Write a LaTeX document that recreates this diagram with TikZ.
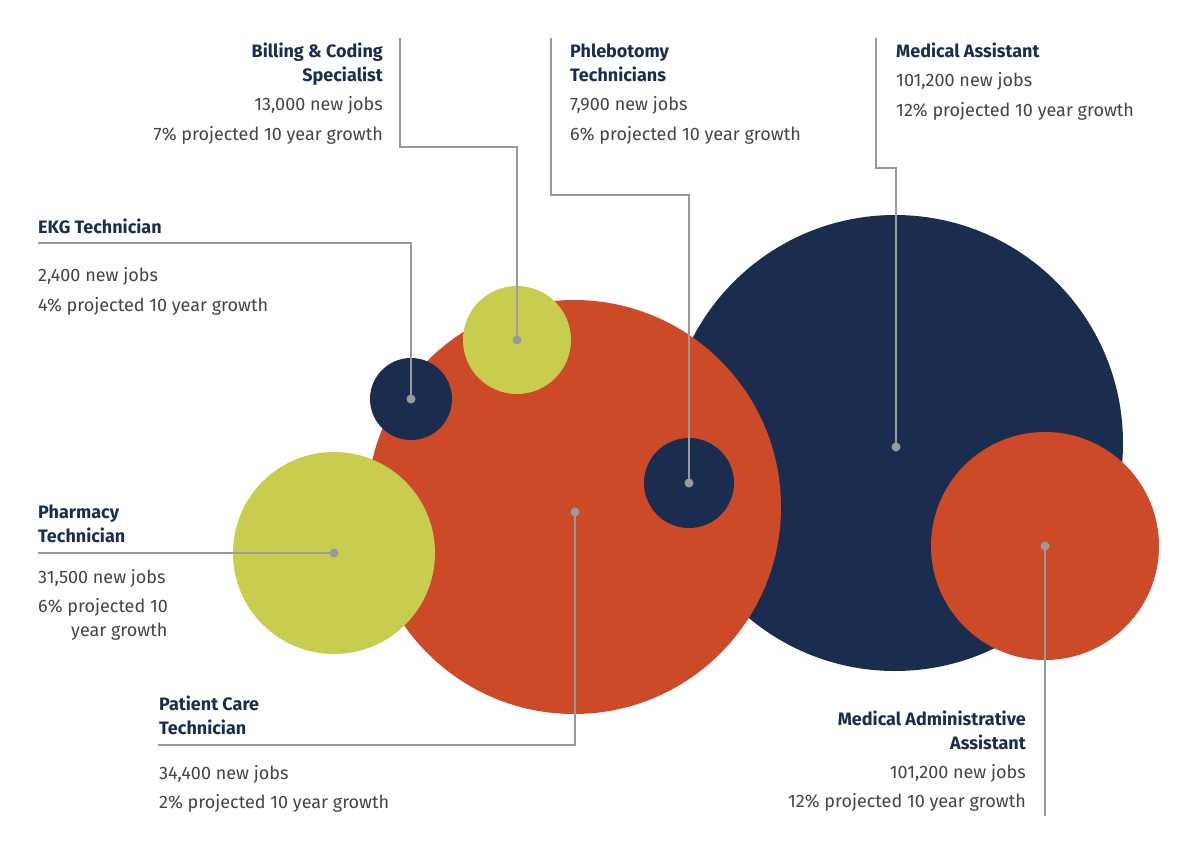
\documentclass[tikz,border=0pt]{standalone}
\usepackage{fontspec}
\setmainfont{Fira Sans}
\begin{document}
\definecolor{navy}{HTML}{1B2D4F}
\definecolor{rust}{HTML}{CD4A28}
\definecolor{lime}{HTML}{C8CD50}
\definecolor{ln}{HTML}{9A9A9A}
\definecolor{txt}{HTML}{444444}
\begin{tikzpicture}[x=1pt,y=-1pt,
  ttl/.style={font=\fontsize{18}{18}\selectfont\bfseries,text=navy,inner sep=0},
  bd/.style={font=\fontsize{18}{18}\selectfont,text=txt,inner sep=0},
  con/.style={draw=ln,line width=1.6pt},
  dot/.style={circle,fill=ln,minimum size=9pt,inner sep=0}]
\useasboundingbox (0,0) rectangle (1200,849);
\fill[white] (0,0) rectangle (1200,849);
\fill[navy] (895,443) circle (228);
\fill[rust] (574,507) circle (207);
\fill[rust] (1045,546) circle (114);
\fill[lime] (334,553) circle (101);
\fill[lime] (517,340) circle (54);
\fill[navy] (411,399) circle (41);
\fill[navy] (689,483) circle (45);
% dots
\node[dot] (bc) at (517,340) {};
\node[dot] (ph) at (689,483) {};
\node[dot] (ma) at (896,447) {};
\node[dot] (ek) at (411,399) {};
\node[dot] (pt) at (334,553) {};
\node[dot] (pc) at (575,512) {};
\node[dot] (mx) at (1045,546) {};
\coordinate (bc0) at (400,38);
\coordinate (ph0) at (551,38);
\coordinate (ma0) at (876,38);
\coordinate (ek0) at (38,243);
\coordinate (pt0) at (38,553);
\coordinate (pc0) at (158,745);
\coordinate (mx0) at (1045,816);
\draw[con] (bc0) |- (517,147) -- (bc.center);
\draw[con] (ph0) |- (689,195) -- (ph.center);
\draw[con] (ma0) |- (896,168) -- (ma.center);
\draw[con] (ek0) -| (ek.center);
\draw[con] (pt0) -- (pt.center);
\draw[con] (pc0) -| (pc.center);
\draw[con] (mx.center) -- (mx0);
% texts
\node[ttl,anchor=base east] (t1) at (383,57) {Billing \& Coding};
\node[ttl,anchor=base east] (t2) at (383,81) {Specialist};
\node[bd,anchor=base east] (t3) at (383,110) {13,000 new jobs};
\node[bd,anchor=base east] (t4) at (383,140) {7\% projected 10 year growth};
\node[ttl,anchor=base west] (p1) at (570,57) {Phlebotomy};
\node[ttl,anchor=base west] (p2) at (570,81) {Technicians};
\node[bd,anchor=base west] (p3) at (570,110) {7,900 new jobs};
\node[bd,anchor=base west] (p4) at (570,140) {6\% projected 10 year growth};
\node[ttl,anchor=base west] (m1) at (896,57) {Medical Assistant};
\node[bd,anchor=base west] (m2) at (896,86) {101,200 new jobs};
\node[bd,anchor=base west] (m3) at (896,116) {12\% projected 10 year growth};
\node[ttl,anchor=base west] (e1) at (38,233) {EKG Technician};
\node[bd,anchor=base west] (e2) at (38,281) {2,400 new jobs};
\node[bd,anchor=base west] (e3) at (38,311) {4\% projected 10 year growth};
\node[ttl,anchor=base west] (r1) at (38,518) {Pharmacy};
\node[ttl,anchor=base west] (r2) at (38,542) {Technician};
\node[bd,anchor=base west] (r3) at (38,583) {31,500 new jobs};
\node[bd,anchor=base west] (r4) at (38,612) {6\% projected 10};
\node[bd,anchor=base west] (r5) at (71,636) {year growth};
\node[ttl,anchor=base west] (c1) at (159,710) {Patient Care};
\node[ttl,anchor=base west] (c2) at (159,734) {Technician};
\node[bd,anchor=base west] (c3) at (159,779) {34,400 new jobs};
\node[bd,anchor=base west] (c4) at (159,808) {2\% projected 10 year growth};
\node[ttl,anchor=base east] (a1) at (1026,725) {Medical Administrative};
\node[ttl,anchor=base east] (a2) at (1026,749) {Assistant};
\node[bd,anchor=base east] (a3) at (1026,778) {101,200 new jobs};
\node[bd,anchor=base east] (a4) at (1026,807) {12\% projected 10 year growth};
\end{tikzpicture}
\end{document}
